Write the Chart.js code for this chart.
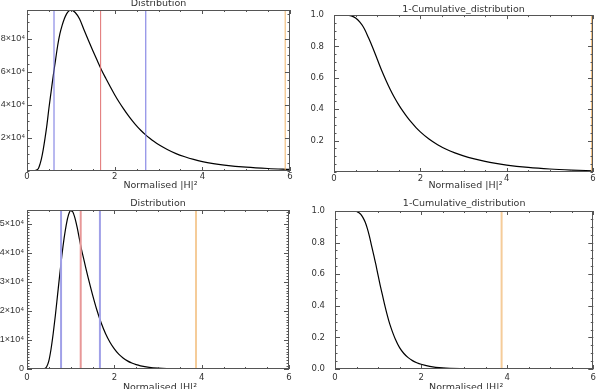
<!DOCTYPE html>
<html><head><meta charset="utf-8">
<script src="https://cdn.jsdelivr.net/npm/chart.js@4/dist/chart.umd.min.js"></script>
<style>
html,body{margin:0;padding:0;background:#fff;width:600px;height:389px;overflow:hidden}
canvas{position:absolute;display:block}
</style></head><body>
<canvas id="c1" width="300" height="195" style="left:0;top:0"></canvas>
<canvas id="c2" width="300" height="195" style="left:300px;top:0"></canvas>
<canvas id="c3" width="300" height="194" style="left:0;top:195px"></canvas>
<canvas id="c4" width="300" height="194" style="left:300px;top:195px"></canvas>
<script>
// ---- texts ----
const titleDist = 'Distribution';
const titleCum = '1-Cumulative_distribution';
const xLabel = 'Normalised |H|\u00B2';

// ---- tick values ----
const xTicks = [0, 2, 4, 6];
const topDistYTicks = [20000, 40000, 60000, 80000];
const botDistYTicks = [0, 10000, 20000, 30000, 40000, 50000];
const topCumYTicks = [0.2, 0.4, 0.6, 0.8, 1.0];
const botCumYTicks = [0, 0.2, 0.4, 0.6, 0.8, 1.0];

// ---- top row: distribution ----
const topDistX = [0,0.1,0.14,0.2,0.26,0.3,0.33,0.37,0.41,0.45,0.5,0.55,0.6,0.65,0.7,0.75,0.8,0.85,0.9,0.95,1.0,1.1,1.2,1.3,1.4,1.5,1.6,1.7,1.8,1.9,2.0,2.1,2.2,2.3,2.4,2.5,2.6,2.7,2.8,2.9,3.0,3.2,3.4,3.6,3.8,4.0,4.25,4.5,5.0,5.5,6.0];
const topDistY = [0,0,0,400,1500,4500,7500,13000,19600,27000,38000,48000,58000,67000,76000,83000,88000,92000,95000,96800,97400,96000,92000,85500,79200,73000,67000,61200,56000,51000,46200,41800,37800,34000,30500,27300,24500,22000,19800,17800,16000,13000,10500,8600,7000,5700,4500,3600,2300,1500,1000];
// ---- top row: 1 - cumulative ----
const topCumX = [0,0.2,0.3,0.4,0.5,0.6,0.7,0.8,0.9,1.0,1.1,1.2,1.3,1.4,1.5,1.6,1.7,1.8,1.9,2.0,2.2,2.4,2.6,2.8,3.0,3.25,3.5,3.75,4.0,4.5,5.0,5.5,6.0];
const topCumY = [1,1,1,0.995,0.982,0.955,0.915,0.855,0.79,0.72,0.65,0.587,0.528,0.475,0.428,0.386,0.348,0.314,0.283,0.256,0.21,0.174,0.145,0.122,0.103,0.084,0.068,0.055,0.044,0.029,0.019,0.0125,0.008];
// ---- bottom row: distribution ----
const botDistX = [0,0.3,0.37,0.4,0.45,0.5,0.55,0.6,0.65,0.7,0.75,0.8,0.85,0.9,0.95,1.0,1.05,1.1,1.15,1.2,1.25,1.3,1.35,1.4,1.5,1.6,1.7,1.8,1.9,2.0,2.1,2.2,2.3,2.4,2.5,2.6,2.8,3.0,3.2,3.5,4.0,5.0,6.0];
const botDistY = [0,0,0,100,800,2800,6800,12200,18500,25500,32500,39200,45000,49700,53000,54500,54000,51800,48600,44800,41000,37800,34500,31400,25600,20300,15800,12100,9200,6900,5100,3800,2800,2050,1500,1100,570,280,120,40,0,0,0];
// ---- bottom row: 1 - cumulative ----
const botCumX = [0,0.4,0.45,0.5,0.55,0.6,0.65,0.7,0.75,0.8,0.85,0.9,0.95,1.0,1.05,1.1,1.15,1.2,1.25,1.3,1.35,1.4,1.5,1.6,1.7,1.8,1.9,2.0,2.2,2.5,3.0,3.5,4.0,6.0];
const botCumY = [1,1,1,0.997,0.99,0.978,0.958,0.93,0.89,0.84,0.78,0.72,0.66,0.594,0.53,0.47,0.41,0.355,0.305,0.262,0.224,0.19,0.135,0.098,0.072,0.053,0.04,0.03,0.017,0.007,0.002,0.0005,0,0];

// ---- marker line positions ----
const topBlue = [0.616, 2.71];
const topRed = [1.68];
const topOrange = [5.89];
const topCumOrange = [5.97];
const botBlue = [0.78, 1.67];
const botRed = [1.23];
const botOrange = [3.87];

const FONT = 'DejaVu Sans';
const SCIFONT = 'Liberation Sans';
const TXT = '#333';

function pts(xs, ys){ return xs.map((x,i)=>({x:x, y:ys[i]})); }
function vlines(xs, ymax, color, w){
  return xs.map(v=>({data:[{x:v,y:0},{x:v,y:ymax}], borderColor:color, borderWidth:w, pointRadius:0, fill:false}));
}

const boxPlugin = {
  id:'box',
  afterDatasetsDraw(chart, args, o){
    const {ctx, chartArea:a, scales:{x,y}} = chart;
    ctx.save();
    ctx.strokeStyle = '#555'; ctx.lineWidth = 1;
    ctx.strokeRect(Math.round(a.left)+0.5, Math.round(a.top)+0.5, Math.round(a.right-a.left)-1, Math.round(a.bottom-a.top)-1);
    ctx.beginPath();
    for (let v = x.min; v <= x.max + 1e-9; v += o.xMinor){
      const major = xTicks.some(t=>Math.abs(t-v)<1e-9);
      const L = major ? 4 : 2;
      const px = Math.round(x.getPixelForValue(v))+0.5;
      ctx.moveTo(px, a.bottom); ctx.lineTo(px, a.bottom-L);
      ctx.moveTo(px, a.top); ctx.lineTo(px, a.top+L);
    }
    for (let v = y.min; v <= y.max + 1e-9; v += o.yMinor){
      const major = o.yMajor.some(t=>Math.abs(t-v)<1e-6*Math.max(1,Math.abs(t)));
      const L = major ? 5 : 2.5;
      const py = Math.round(y.getPixelForValue(v))+0.5;
      ctx.moveTo(a.left, py); ctx.lineTo(a.left+L, py);
      ctx.moveTo(a.right, py); ctx.lineTo(a.right-L, py);
    }
    ctx.stroke();
    ctx.fillStyle = TXT;
    ctx.font = '9.5px "' + FONT + '"';
    ctx.textAlign = 'center'; ctx.textBaseline = 'middle';
    const cx = (a.left + a.right)/2;
    ctx.fillText(o.title, cx, a.top + o.titleDy);
    ctx.fillText(xLabel, cx + 2, a.bottom + o.xlabDy);
    ctx.restore();
  }
};

function make(id, cfg){
  const datasets = [...cfg.lines, {data:cfg.curve, borderColor:'#000', borderWidth:1.2, pointRadius:0, fill:false, cubicInterpolationMode:'monotone'}];
  new Chart(document.getElementById(id), {
    type:'line',
    data:{datasets},
    plugins:[boxPlugin],
    options:{
      responsive:false, animation:false, events:[], devicePixelRatio:1,
      layout:{padding:{left:0, right:cfg.padR, top:cfg.padT, bottom:0}},
      plugins:{legend:{display:false}, tooltip:{enabled:false},
        box:{title:cfg.title, titleDy:cfg.titleDy, xlabDy:cfg.xlabDy, xMinor:0.5, yMinor:cfg.yMinor, yMajor:cfg.yTicks}},
      scales:{
        x:{type:'linear', min:0, max:6,
          grid:{display:false, drawTicks:false}, border:{display:false},
          ticks:{padding:cfg.xPad, font:{family:FONT, size:8.5}, color:TXT, autoSkip:false, maxRotation:0, callback:v=>String(v)},
          afterBuildTicks:s=>{s.ticks = xTicks.map(v=>({value:v}));},
          afterFit:s=>{s.height = cfg.xH;}},
        y:{type:'linear', min:0, max:cfg.yMax,
          grid:{display:false, drawTicks:false}, border:{display:false},
          ticks:{padding:cfg.yPad, font:{family:cfg.yFont, size:cfg.yFontSize}, color:TXT, autoSkip:false, callback:cfg.yFmt},
          afterBuildTicks:s=>{s.ticks = cfg.yTicks.map(v=>({value:v}));},
          afterFit:s=>{s.width = cfg.yW;}}
      }
    }
  });
}

const sciFmt = v => v === 0 ? '0' : (v/10000) + '\u00D710\u2074';
const decFmt = v => Number(v).toFixed(1);

make('c1', {
  curve:pts(topDistX, topDistY), yMax:97500, yTicks:topDistYTicks, yMinor:5000, yFmt:sciFmt, yFont:SCIFONT, yFontSize:9,
  lines:[...vlines(topBlue,97500,'#7373e0',1), ...vlines(topRed,97500,'#e07070',1), ...vlines(topOrange,97500,'#f0b468',1)],
  padR:10, padT:10, xH:24, yW:27, xPad:1, yPad:2, title:titleDist, titleDy:-6, xlabDy:15
});
make('c2', {
  curve:pts(topCumX, topCumY), yMax:1.0, yTicks:topCumYTicks, yMinor:0.05, yFmt:decFmt, yFont:FONT, yFontSize:8.5,
  lines:[...vlines(topCumOrange,1,'#f0b468',1)],
  padR:7, padT:10, xH:23, yW:34, xPad:1.3, yPad:10, title:titleCum, titleDy:-6, xlabDy:14
});
make('c3', {
  curve:pts(botDistX, botDistY), yMax:54700, yTicks:botDistYTicks, yMinor:1000, yFmt:sciFmt, yFont:SCIFONT, yFontSize:9,
  lines:[...vlines(botBlue,54700,'#a0a0e8',2), ...vlines(botRed,54700,'#e89898',2), ...vlines(botOrange,54700,'#f5cc99',2)],
  padR:11, padT:15, xH:20, yW:27, xPad:4, yPad:3, title:titleDist, titleDy:-6, xlabDy:18.7
});
make('c4', {
  curve:pts(botCumX, botCumY), yMax:1.0, yTicks:botCumYTicks, yMinor:0.05, yFmt:decFmt, yFont:FONT, yFontSize:8.5,
  lines:[...vlines(botOrange,1,'#f5cc99',2)],
  padR:4, padT:16, xH:20, yW:35, xPad:4, yPad:10, title:titleCum, titleDy:-7.5, xlabDy:18.5
});
</script>
</body></html>
